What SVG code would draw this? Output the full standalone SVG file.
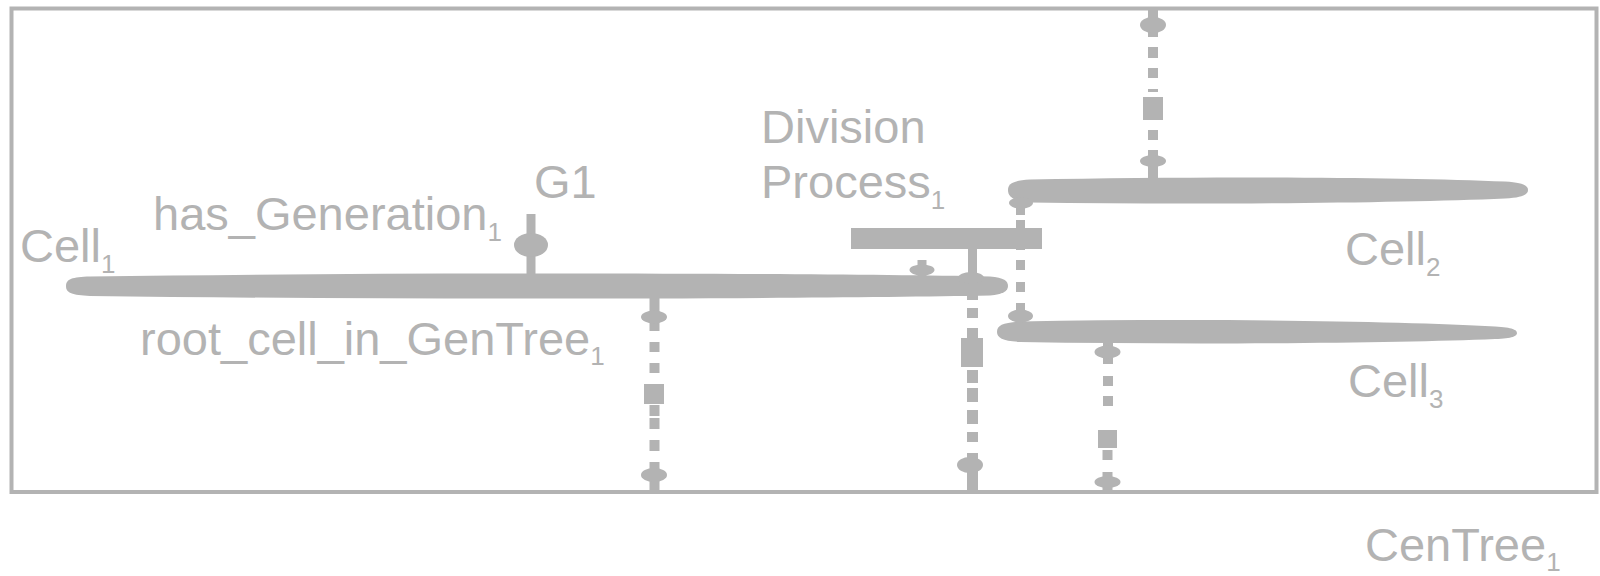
<svg xmlns="http://www.w3.org/2000/svg" width="1600" height="576" viewBox="0 0 1600 576">
  <style>
    .fill { fill: #b3b3b3; }
    .frame { fill: none; stroke: #b3b3b3; stroke-width: 4; }
    .lbl { font-family: "Liberation Sans", Arial, sans-serif; font-size: 47px; fill: #b3b3b3; }
    .sub { font-size: 26px; }
  </style>

  <!-- GenTree container -->
  <g id="CenTree1">
    <rect class="frame" x="11.5" y="8.5" width="1585" height="483.5"/>
    <text class="lbl" x="1365" y="561">CenTree<tspan class="sub" dy="10">1</tspan></text>
  </g>

  <!-- Cell1 -->
  <g id="Cell1">
    <path class="fill" d="M66,286 C66,279 72,277 90,276.5 C400,272 800,273 990,276.5 C1004,277.5 1008,281 1008,286 C1008,291 1003,294.5 990,295.5 C800,299 400,300 90,296 C72,295 66,293 66,286 Z"/>
    <text class="lbl" x="20" y="262">Cell<tspan class="sub" dy="11">1</tspan></text>
  </g>

  <!-- Cell2 -->
  <g id="Cell2">
    <path class="fill" d="M1008,190 C1008,183 1014,180.5 1030,179.5 C1200,176 1400,177 1505,181.5 C1524,182.5 1528,186 1528,190 C1528,194 1524,197.5 1505,198.5 C1400,203 1200,205 1030,202.5 C1014,201.5 1008,197 1008,190 Z"/>
    <text class="lbl" x="1345" y="265">Cell<tspan class="sub" dy="11">2</tspan></text>
  </g>

  <!-- Cell3 -->
  <g id="Cell3">
    <path class="fill" d="M997,332 C997,325 1003,322.5 1020,321.5 C1200,318 1400,321 1495,326.5 C1513,327.5 1517,330 1517,333 C1517,336 1513,338.5 1495,339 C1400,343 1200,345 1020,342 C1003,341 997,338 997,332 Z"/>
    <text class="lbl" x="1348" y="397">Cell<tspan class="sub" dy="11">3</tspan></text>
  </g>

  <!-- Division process -->
  <g id="DivisionProcess1">
    <rect class="fill" x="851" y="228" width="191" height="21"/>
    <text class="lbl" x="761" y="143">Division</text>
    <text class="lbl" x="761" y="198">Process<tspan class="sub" dy="11">1</tspan></text>
  </g>

  <!-- Generation G1 -->
  <g id="G1">
    <text class="lbl" x="534" y="198">G1</text>
  </g>

  <!-- Relation labels -->
  <g id="has_Generation1">
    <text class="lbl" x="153" y="230">has_Generation<tspan class="sub" dy="11">1</tspan></text>
  </g>
  <g id="root_cell_in_GenTree1">
    <text class="lbl" x="140" y="355">root_cell_in_GenTree<tspan class="sub" dy="10">1</tspan></text>
  </g>

  <g id="connectors" class="fill">
    <!-- Cell1 to G1 -->
    <g id="conn-has-generation">
      <rect x="526.5" y="214" width="9" height="60"/>
      <ellipse cx="531" cy="245" rx="17" ry="12"/>
    </g>

    <!-- Cell1 to GenTree (root cell) -->
    <g id="conn-root-cell">
      <rect x="649.5" y="297" width="10" height="34"/>
      <ellipse cx="654" cy="317" rx="13" ry="6.5"/>
      <rect x="649.5" y="342" width="10" height="10"/>
      <rect x="649.5" y="363" width="10" height="10"/>
      <rect x="644" y="384" width="20" height="20"/>
      <rect x="649.5" y="405" width="10" height="11"/>
      <rect x="649.5" y="418" width="10" height="11"/>
      <rect x="649.5" y="440" width="10" height="11"/>
      <rect x="649.5" y="462" width="10" height="30"/>
      <ellipse cx="654" cy="475" rx="13" ry="7"/>
    </g>

    <!-- Division process to Cell1, Cell1 to GenTree -->
    <g id="conn-division-cell1-tree">
      <rect x="968" y="249" width="9" height="30"/>
      <ellipse cx="971" cy="278" rx="13" ry="6"/>
      <rect x="967" y="293" width="11" height="7"/>
      <rect x="967" y="308" width="11" height="10"/>
      <rect x="967" y="328" width="11" height="10"/>
      <rect x="961" y="338" width="22" height="29"/>
      <rect x="967" y="370" width="11" height="13"/>
      <rect x="967" y="388" width="11" height="14"/>
      <rect x="967" y="410" width="11" height="14"/>
      <rect x="967" y="432" width="11" height="10"/>
      <rect x="967" y="453" width="11" height="39"/>
      <ellipse cx="970" cy="465" rx="13" ry="8"/>
    </g>

    <!-- Division process to Cell1 (input) -->
    <g id="conn-division-input">
      <rect x="917.5" y="260" width="9" height="17"/>
      <ellipse cx="922" cy="270" rx="12.5" ry="5.5"/>
    </g>

    <!-- Cell2 through division process to Cell3 -->
    <g id="conn-cell2-cell3">
      <ellipse cx="1021" cy="203" rx="12" ry="5.5"/>
      <rect x="1016" y="198" width="9" height="17"/>
      <rect x="1016" y="220" width="9" height="30"/>
      <rect x="1016" y="260" width="9" height="10"/>
      <rect x="1016" y="282" width="9" height="10"/>
      <rect x="1016" y="303" width="9" height="20"/>
      <ellipse cx="1020.5" cy="316" rx="12.5" ry="6.5"/>
    </g>

    <!-- Cell3 to GenTree -->
    <g id="conn-cell3-tree">
      <rect x="1103" y="340" width="10" height="24"/>
      <ellipse cx="1107.5" cy="352" rx="13" ry="6.5"/>
      <rect x="1103" y="376" width="10" height="10"/>
      <rect x="1103" y="396" width="10" height="10"/>
      <rect x="1098" y="430" width="19" height="18"/>
      <rect x="1102.5" y="450" width="10" height="10"/>
      <rect x="1102.5" y="472" width="10" height="20"/>
      <ellipse cx="1107.5" cy="482" rx="13" ry="6"/>
    </g>

    <!-- GenTree to Cell2 -->
    <g id="conn-tree-cell2">
      <rect x="1148" y="8" width="10" height="29"/>
      <ellipse cx="1153" cy="25" rx="13" ry="8"/>
      <rect x="1148" y="47" width="10" height="11"/>
      <rect x="1148" y="68" width="10" height="10"/>
      <rect x="1148" y="89" width="10" height="3"/>
      <rect x="1143" y="97" width="20" height="23"/>
      <rect x="1148" y="130" width="10" height="10"/>
      <rect x="1148" y="150" width="10" height="30"/>
      <ellipse cx="1153" cy="161" rx="13" ry="6"/>
    </g>
  </g>
</svg>
